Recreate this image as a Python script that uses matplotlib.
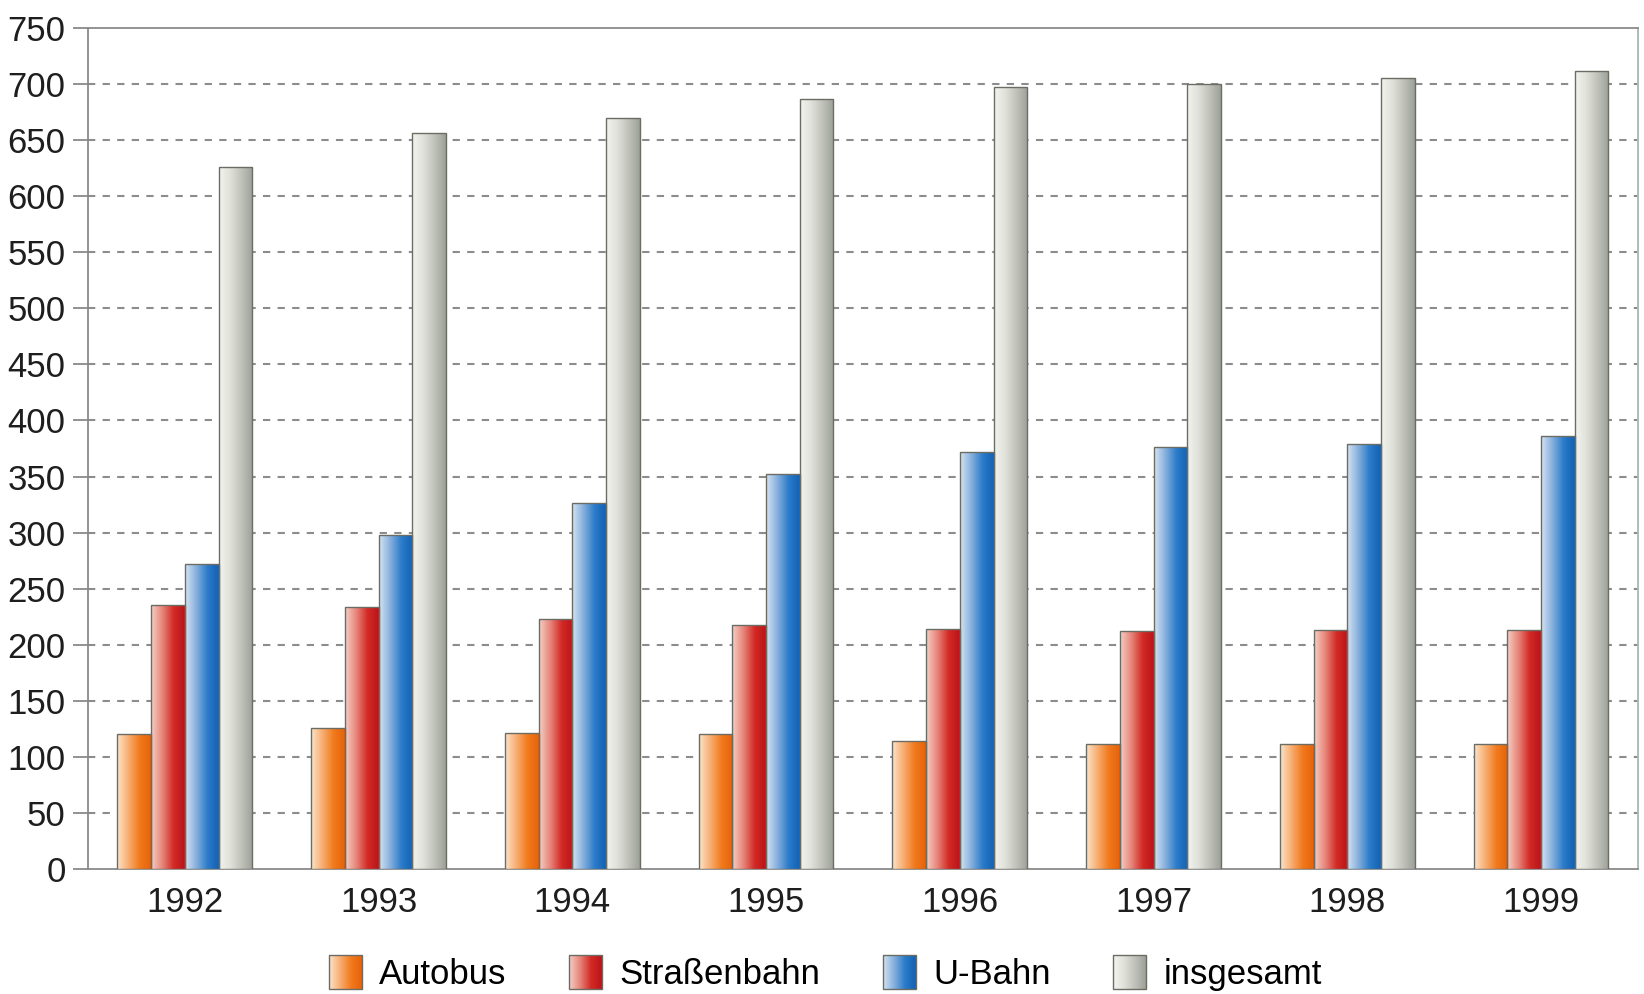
"""Fahrgäste nach Verkehrsmittel 1992-1999, grouped gradient bars."""

import numpy as np
import matplotlib
matplotlib.use("Agg")
import matplotlib.pyplot as plt
from matplotlib.colors import LinearSegmentedColormap
from matplotlib.patches import Rectangle
from matplotlib.legend_handler import HandlerBase
from matplotlib.image import BboxImage
from matplotlib.transforms import Bbox, TransformedBbox

plt.rcParams["font.family"] = ["Liberation Sans", "DejaVu Sans"]

years = ["1992", "1993", "1994", "1995", "1996", "1997", "1998", "1999"]
autobus = [120, 126, 121, 120, 114, 111, 111, 111]
strassenbahn = [235, 234, 223, 218, 214, 212, 213, 213]
ubahn = [272, 298, 326, 352, 372, 376, 379, 386]
insgesamt = [626, 656, 670, 687, 697, 700, 705, 712]

series_names = ["Autobus", "Straßenbahn", "U-Bahn", "insgesamt"]
series_values = [autobus, strassenbahn, ubahn, insgesamt]

# left -> right gradient per series
GRADIENTS = [
    ["#fde4c8", "#f9ae72", "#f27a1c", "#e5620c"],
    ["#f8cfc4", "#e8857a", "#d42a26", "#b8141a"],
    ["#d6e4f4", "#86b0de", "#2a7ccb", "#1460b0"],
    ["#f4f4ee", "#e0e1da", "#c0c2ba", "#9ca098"],
]
CMAPS = [LinearSegmentedColormap.from_list(f"g{i}", c) for i, c in enumerate(GRADIENTS)]
EDGE = "#6b6d64"
GRAD = np.linspace(0, 1, 256).reshape(1, -1)


class GradientHandler(HandlerBase):
    def __init__(self, cmap):
        super().__init__()
        self.cmap = cmap

    def create_artists(self, legend, orig_handle, xdescent, ydescent,
                       width, height, fontsize, trans):
        bb = TransformedBbox(Bbox.from_bounds(-xdescent, -ydescent, width, height), trans)
        img = BboxImage(bb, cmap=self.cmap, interpolation="bilinear")
        img.set_data(GRAD)
        rect = Rectangle((-xdescent, -ydescent), width, height, facecolor="none",
                         edgecolor=EDGE, lw=1.0, transform=trans)
        return [img, rect]


def main():
    fig = plt.figure(figsize=(16.44, 9.94), dpi=100)
    ax = fig.add_axes([0.0535, 0.1258, 0.9428, 0.846])

    x = np.arange(len(years))
    width = 0.174
    offsets = (np.arange(4) - 1.5) * width

    for k, (vals, cmap) in enumerate(zip(series_values, CMAPS)):
        bars = ax.bar(x + offsets[k], vals, width, facecolor="none",
                      edgecolor=EDGE, lw=1.0, zorder=4)
        for b in bars:
            x0, y0 = b.get_x(), b.get_y()
            im = ax.imshow(GRAD, cmap=cmap, aspect="auto", interpolation="bilinear",
                           extent=(x0, x0 + b.get_width(), y0, y0 + b.get_height()),
                           zorder=3)
            im.set_clip_path(b)

    ax.set_xlim(-0.5, len(years) - 0.5)
    ax.set_ylim(0, 750)
    ax.set_yticks(np.arange(0, 751, 50))
    ax.set_xticks(x)
    ax.set_xticklabels(years)
    ax.tick_params(axis="y", direction="out", length=11, width=1.3, color="#8a8a8a",
                   labelsize=25, pad=5, labelcolor="#1e1e1e")
    ax.tick_params(axis="x", length=0, labelsize=25, pad=12, labelcolor="#1e1e1e")

    for yv in np.arange(50, 701, 50):
        ax.axhline(yv, color="#8c8c8c", lw=1.5, ls=(0, (3.5, 3.5)), zorder=1)

    for side in ["left", "top", "bottom"]:
        ax.spines[side].set_color("#8a8a8a")
        ax.spines[side].set_linewidth(1.3)
    ax.spines["right"].set_color("#a9b8b0")
    ax.spines["right"].set_linewidth(1.3)

    handles = [Rectangle((0, 0), 1, 1) for _ in series_names]
    fig.legend(handles, series_names, loc="center", bbox_to_anchor=(0.502, 0.021),
               ncol=4, frameon=False, fontsize=25, handlelength=0.95, handleheight=1.1,
               handletextpad=0.5, columnspacing=1.8, borderpad=0,
               handler_map={h: GradientHandler(c) for h, c in zip(handles, CMAPS)})

    fig.savefig("out.png", dpi=100, facecolor="white")
    plt.close(fig)


if __name__ == "__main__":
    main()
